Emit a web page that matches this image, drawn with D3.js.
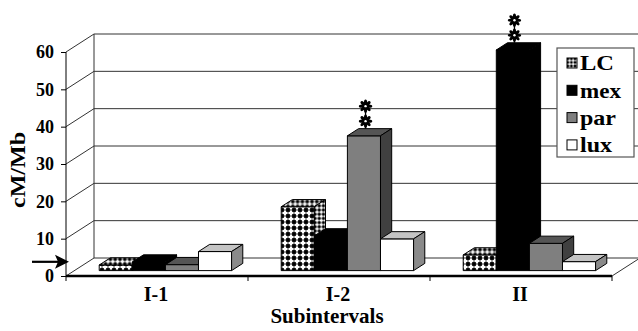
<!DOCTYPE html>
<html>
<head>
<meta charset="utf-8">
<script src="https://cdn.jsdelivr.net/npm/d3@7"></script>
<style>
  html, body { margin: 0; padding: 0; background: #fff; }
  svg { display: block; }
  text { font-family: "Liberation Serif", "Times New Roman", serif; font-weight: bold; fill: #000; }
</style>
</head>
<body>
<svg id="chart" width="638" height="331"></svg>
<script>
// ---------------- data ----------------
const categories = ["I-1", "I-2", "II"];
const seriesNames = ["LC", "mex", "par", "lux"];
const LC  = [1.5, 17.1, 4.2];
const mex = [2.3, 9.3, 59.1];
const par = [1.6, 36.1, 7.3];
const lux = [5.1, 8.5, 2.4];
const yTicks = [0, 10, 20, 30, 40, 50, 60];
const starred = [{cat: "I-2", series: "par"}, {cat: "II", series: "mex"}];
const arrowValue = 3.8;
const yTitle = "cM/Mb";
const xTitle = "Subintervals";

const seriesValues = {LC, mex, par, lux};

// ---------------- layout ----------------
const svg = d3.select("#chart");
const X0 = 66, X1 = 612, Y0 = 276, Ytop = 52;
const DX = 28, DY = -18;        // full floor depth offset
const Z0 = 0.3, Z1 = 0.7;       // bar depth span

const x = d3.scaleBand().domain(categories).range([X0, X1]).padding(0);
const barW = x.bandwidth() / 5.5;
const xs = d3.scaleBand().domain(seriesNames)
  .range([barW * 0.75, x.bandwidth() - barW * 0.75]).padding(0);
const y = d3.scaleLinear().domain([0, 60]).range([Y0, Ytop]);

const P = (xf, v, z) => [xf + z * DX, y(v) + z * DY];
const poly = pts => pts.map(p => p.join(",")).join(" ");

// ---------------- patterns ----------------
const defs = svg.append("defs");
function lcPattern(id, s) {
  const p = defs.append("pattern").attr("id", id).attr("patternUnits", "userSpaceOnUse")
    .attr("width", 6 * s).attr("height", 6 * s);
  p.append("rect").attr("width", 6 * s).attr("height", 6 * s).attr("fill", "#000");
  p.append("rect").attr("x", 0.4 * s).attr("y", 1.9 * s).attr("width", 5.2 * s).attr("height", 2.2 * s).attr("fill", "#fff");
  p.append("rect").attr("x", 1.9 * s).attr("y", 0.4 * s).attr("width", 2.2 * s).attr("height", 5.2 * s).attr("fill", "#fff");
}
lcPattern("lcFront", 1);
lcPattern("lcSide", 0.7);
lcPattern("lcTop", 0.8);
lcPattern("lcLeg", 0.6);

const faceFill = {
  LC:  {front: "url(#lcFront)", top: "url(#lcTop)", side: "url(#lcSide)", leg: "url(#lcLeg)"},
  mex: {front: "#000", top: "#000", side: "#000", leg: "#000"},
  par: {front: "#7f7f7f", top: "#555", side: "#404040", leg: "#7f7f7f"},
  lux: {front: "#fff", top: "#c4c4c4", side: "#8a8a8a", leg: "#fff"}
};

// ---------------- walls, grid ----------------
const grid = svg.append("g").attr("stroke", "#333").attr("stroke-width", 1).attr("fill", "none");
yTicks.forEach(t => {
  const a = P(X0, t, 0), b = P(X0, t, 1), c = P(X1 + 40, t, 1);
  grid.append("polyline").attr("points", poly([a, b, c]));
});
grid.append("line")
  .attr("x1", X0 + DX).attr("x2", X0 + DX)
  .attr("y1", y(60) + DY).attr("y2", y(0) + DY);
grid.append("line")
  .attr("x1", X1).attr("y1", y(0)).attr("x2", X1 + DX).attr("y2", y(0) + DY);
grid.append("line").attr("stroke", "#000")
  .attr("x1", X0).attr("x2", X0).attr("y1", y(60)).attr("y2", y(0));

// ---------------- bars ----------------
const barsG = svg.append("g").attr("stroke", "#000").attr("stroke-width", 1).attr("stroke-linejoin", "round");
const barData = [];
categories.forEach((c, ci) => {
  seriesNames.forEach(s => {
    barData.push({cat: c, series: s, value: seriesValues[s][ci]});
  });
});
barData.forEach(d => {
  const xa = x(d.cat) + xs(d.series), xb = xa + xs.bandwidth();
  const g = barsG.append("g");
  const f = faceFill[d.series];
  g.append("polygon").attr("fill", f.front)
    .attr("points", poly([P(xa, 0, Z0), P(xa, d.value, Z0), P(xb, d.value, Z0), P(xb, 0, Z0)]));
  g.append("polygon").attr("fill", f.top)
    .attr("points", poly([P(xa, d.value, Z0), P(xb, d.value, Z0), P(xb, d.value, Z1), P(xa, d.value, Z1)]));
  g.append("polygon").attr("fill", f.side)
    .attr("points", poly([P(xb, 0, Z0), P(xb, d.value, Z0), P(xb, d.value, Z1), P(xb, 0, Z1)]));
});

// ---------------- significance asterisks ----------------
function asterisk(g, cx, cy) {
  const a = g.append("g").attr("transform", `translate(${cx},${cy})`);
  for (let k = 0; k < 8; k++) {
    a.append("ellipse").attr("cx", 0).attr("cy", -3.6).attr("rx", 1.6).attr("ry", 3.1)
      .attr("transform", `rotate(${k * 45})`).attr("fill", "#000");
  }
  a.append("circle").attr("r", 1.2).attr("fill", "#fff");
}
starred.forEach(st => {
  const ci = categories.indexOf(st.cat);
  const v = seriesValues[st.series][ci];
  const xc = x(st.cat) + xs(st.series) + xs.bandwidth() / 2 + (Z0 + Z1) / 2 * DX - 4;
  const yb = y(v) + Z1 * DY;
  const g = svg.append("g");
  g.append("line").attr("x1", xc).attr("x2", xc).attr("y1", yb).attr("y2", yb - 24)
    .attr("stroke", "#000").attr("stroke-width", 1.3);
  asterisk(g, xc, yb - 7.5);
  asterisk(g, xc, yb - 22.5);
});

// ---------------- front floor edge, ticks ----------------
svg.append("line").attr("x1", X0).attr("x2", X1).attr("y1", y(0)).attr("y2", y(0))
  .attr("stroke", "#000").attr("stroke-width", 2.5);
const tickXs = categories.map(c => x(c)).concat([X1]);
svg.append("g").selectAll("line").data(tickXs).join("line")
  .attr("x1", d => d).attr("x2", d => d).attr("y1", y(0)).attr("y2", y(0) + 5)
  .attr("stroke", "#000").attr("stroke-width", 1);

// ---------------- y axis ----------------
const yAxis = d3.axisLeft(y).tickValues(yTicks).tickSize(5).tickPadding(7).tickFormat(d3.format("d"));
const yg = svg.append("g").attr("transform", `translate(${X0},0)`).call(yAxis);
yg.select(".domain").remove();
yg.selectAll(".tick line").attr("stroke", "#000");
yg.selectAll(".tick text").style("font-size", "18px").style("font-family", "Liberation Serif").style("font-weight", "bold");

svg.append("text").attr("transform", `translate(25,170) rotate(-90)`)
  .attr("text-anchor", "middle").style("font-size", "21px")
  .attr("textLength", 76).attr("lengthAdjust", "spacingAndGlyphs").text(yTitle);

// ---------------- x labels ----------------
svg.append("g").selectAll("text").data(categories).join("text")
  .attr("x", d => x(d) + x.bandwidth() / 2 - 1).attr("y", 301)
  .attr("text-anchor", "middle").style("font-size", "20px").text(d => d);
svg.append("text").attr("x", 327).attr("y", 323).attr("text-anchor", "middle")
  .style("font-size", "21px").text(xTitle);

// ---------------- arrow ----------------
const ay = y(arrowValue);
svg.append("line").attr("x1", 32).attr("x2", 58).attr("y1", ay).attr("y2", ay)
  .attr("stroke", "#000").attr("stroke-width", 2.2);
svg.append("polygon").attr("points", poly([[55, ay - 7], [69, ay], [55, ay + 7], [58, ay]])).attr("fill", "#000");

// ---------------- legend ----------------
const legendWidths = [34, 41, 36, 32];
const leg = svg.append("g").attr("transform", "translate(557,48)");
leg.append("rect").attr("width", 77).attr("height", 109).attr("fill", "#fff")
  .attr("stroke", "#555").attr("stroke-width", 1.2);
seriesNames.forEach((s, i) => {
  const cy = 15 + i * 27.3;
  leg.append("rect").attr("x", 10).attr("y", cy - 5).attr("width", 10).attr("height", 10)
    .attr("fill", faceFill[s].leg).attr("stroke", "#000").attr("stroke-width", 1);
  leg.append("text").attr("x", 23).attr("y", cy).attr("dy", "0.35em")
    .style("font-size", "21px").attr("textLength", legendWidths[i])
    .attr("lengthAdjust", "spacingAndGlyphs").text(s);
});
</script>
</body>
</html>
